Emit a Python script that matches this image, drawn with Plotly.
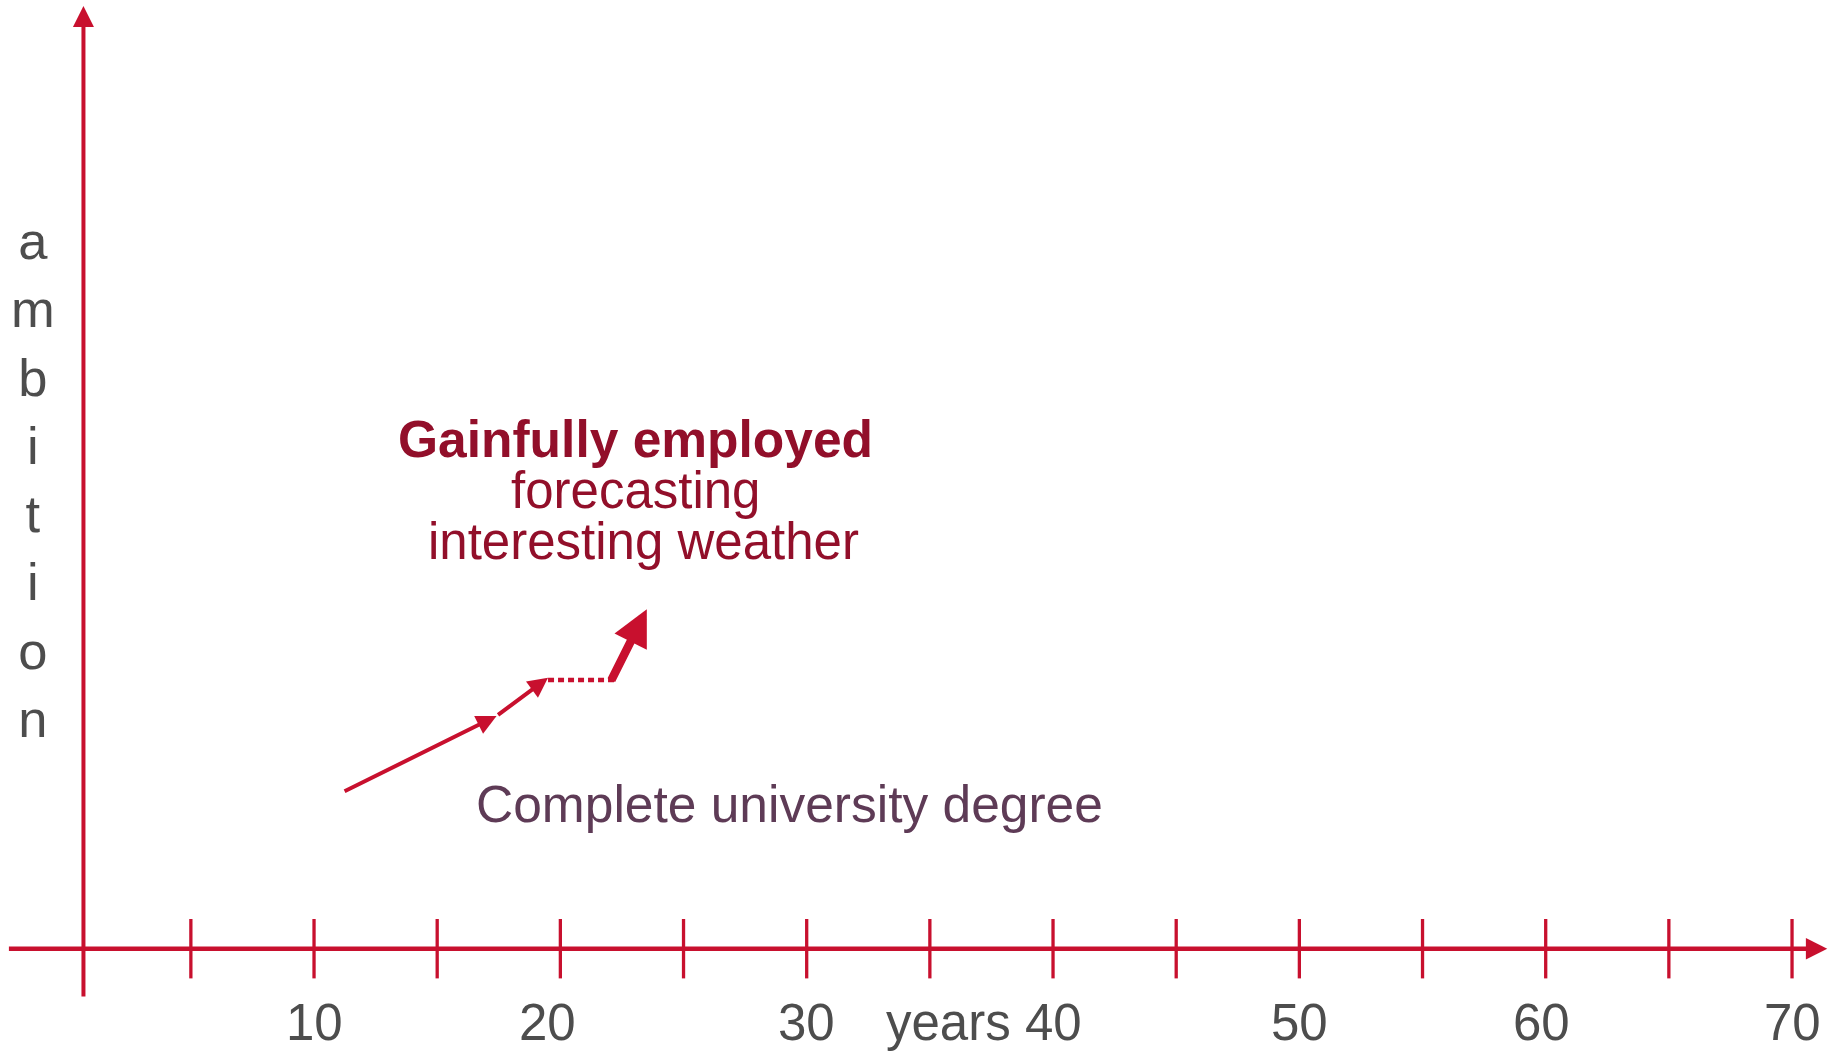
import plotly.graph_objects as go

# ---------------- data ----------------
tick_years = [5, 10, 15, 20, 25, 30, 35, 40, 45, 50, 55, 60, 65, 70]
label_years = [10, 20, 30, 40, 50, 60, 70]
label_texts = ["10", "20", "30", "40", "50", "60", "70"]

# career path (years, ambition)
path_years = [11.18, 17.41, 19.50]
path_ambition = [1.567, 2.327, 2.71]
pause_years = [19.50, 22.25]
pause_ambition = [2.687, 2.687]
jump_years = [22.04, 23.51]
jump_ambition = [2.67, 3.394]

x_axis_span = [-2.447, 71.43]
y_axis_span = [-0.493, 9.427]
y_axis_at = 0.64
tick_half = 0.297

RED = "#C8102E"
DARK_RED = "#920F2A"
PURPLE = "#5E3B56"
GRAY = "#4D4D4D"
FONT = "Liberation Sans, Arial, sans-serif"

fig = go.Figure()

# tick marks
tx, ty = [], []
for t in tick_years:
    tx += [t, t, None]
    ty += [tick_half, -tick_half, None]
fig.add_trace(go.Scatter(x=tx, y=ty, mode="lines",
                         line=dict(color=RED, width=3.3), hoverinfo="skip"))

# dotted pause segment
fig.add_trace(go.Scatter(x=pause_years, y=pause_ambition, mode="lines",
                         line=dict(color=RED, width=4.5, dash="6px,4px"),
                         hoverinfo="skip"))

ann = []
# horizontal axis arrow
ann.append(dict(x=x_axis_span[1], y=0, ax=x_axis_span[0], ay=0,
                xref="x", yref="y", axref="x", ayref="y", text="",
                showarrow=True, arrowhead=2, arrowsize=0.95, arrowwidth=4.5,
                arrowcolor=RED, standoff=0))
# vertical axis arrow
ann.append(dict(x=y_axis_at, y=y_axis_span[1], ax=y_axis_at, ay=y_axis_span[0],
                xref="x", yref="y", axref="x", ayref="y", text="",
                showarrow=True, arrowhead=2, arrowsize=1.05, arrowwidth=4,
                arrowcolor=RED, standoff=0))
# path arrows
for i in range(len(path_years) - 1):
    ann.append(dict(x=path_years[i + 1], y=path_ambition[i + 1],
                    ax=path_years[i], ay=path_ambition[i],
                    xref="x", yref="y", axref="x", ayref="y", text="",
                    showarrow=True, arrowhead=2, arrowsize=1.0, arrowwidth=4,
                    arrowcolor=RED, standoff=0))
# thick jump arrow
ann.append(dict(x=jump_years[1], y=jump_ambition[1],
                ax=jump_years[0], ay=jump_ambition[0],
                xref="x", yref="y", axref="x", ayref="y", text="",
                showarrow=True, arrowhead=2, arrowsize=0.85, arrowwidth=8.5,
                arrowcolor=RED, standoff=0))

# tick labels
shifts = {20: -13, 60: -4}
for yv, txt in zip(label_years, label_texts):
    ann.append(dict(x=yv, y=-0.736, xref="x", yref="y", text=txt,
                    showarrow=False, xanchor="center", yanchor="middle",
                    xshift=shifts.get(yv, 0),
                    font=dict(family=FONT, size=51, color=GRAY)))
ann.append(dict(x=33.14, y=-0.736, xref="x", yref="y", text="years",
                showarrow=False, xanchor="left", yanchor="middle",
                font=dict(family=FONT, size=51, color=GRAY)))

# y label
ann.append(dict(x=-1.41, y=4.69, xref="x", yref="y",
                text="<br>".join(list("ambition")),
                showarrow=False, xanchor="center", yanchor="middle",
                font=dict(family=FONT, size=52.5, color=GRAY)))

# annotations text
ann.append(dict(x=16.50, y=1.444, xref="x", yref="y",
                text="Complete university degree", showarrow=False,
                xanchor="left", yanchor="middle",
                font=dict(family=FONT, size=51.5, color=PURPLE)))
ann.append(dict(x=23.06, y=5.097, xref="x", yref="y",
                text="<b>Gainfully employed</b>", showarrow=False,
                xanchor="center", yanchor="middle",
                font=dict(family=FONT, size=51.5, color=DARK_RED)))
ann.append(dict(x=23.06, y=4.584, xref="x", yref="y",
                text="forecasting", showarrow=False,
                xanchor="center", yanchor="middle",
                font=dict(family=FONT, size=51, color=DARK_RED)))
ann.append(dict(x=23.38, y=4.074, xref="x", yref="y",
                text="interesting weather", showarrow=False,
                xanchor="center", yanchor="middle",
                font=dict(family=FONT, size=51, color=DARK_RED)))

fig.update_layout(
    width=1831, height=1052,
    margin=dict(l=0, r=0, t=0, b=0),
    paper_bgcolor="white", plot_bgcolor="white",
    showlegend=False,
    xaxis=dict(range=[-2.748, 71.582], visible=False, fixedrange=True),
    yaxis=dict(range=[-1.033, 9.487], visible=False, fixedrange=True),
    annotations=ann,
)

fig.write_html("out.html", config={"displayModeBar": False},
               post_script="document.body.style.margin='0';"
                           "document.body.style.overflow='hidden';")
